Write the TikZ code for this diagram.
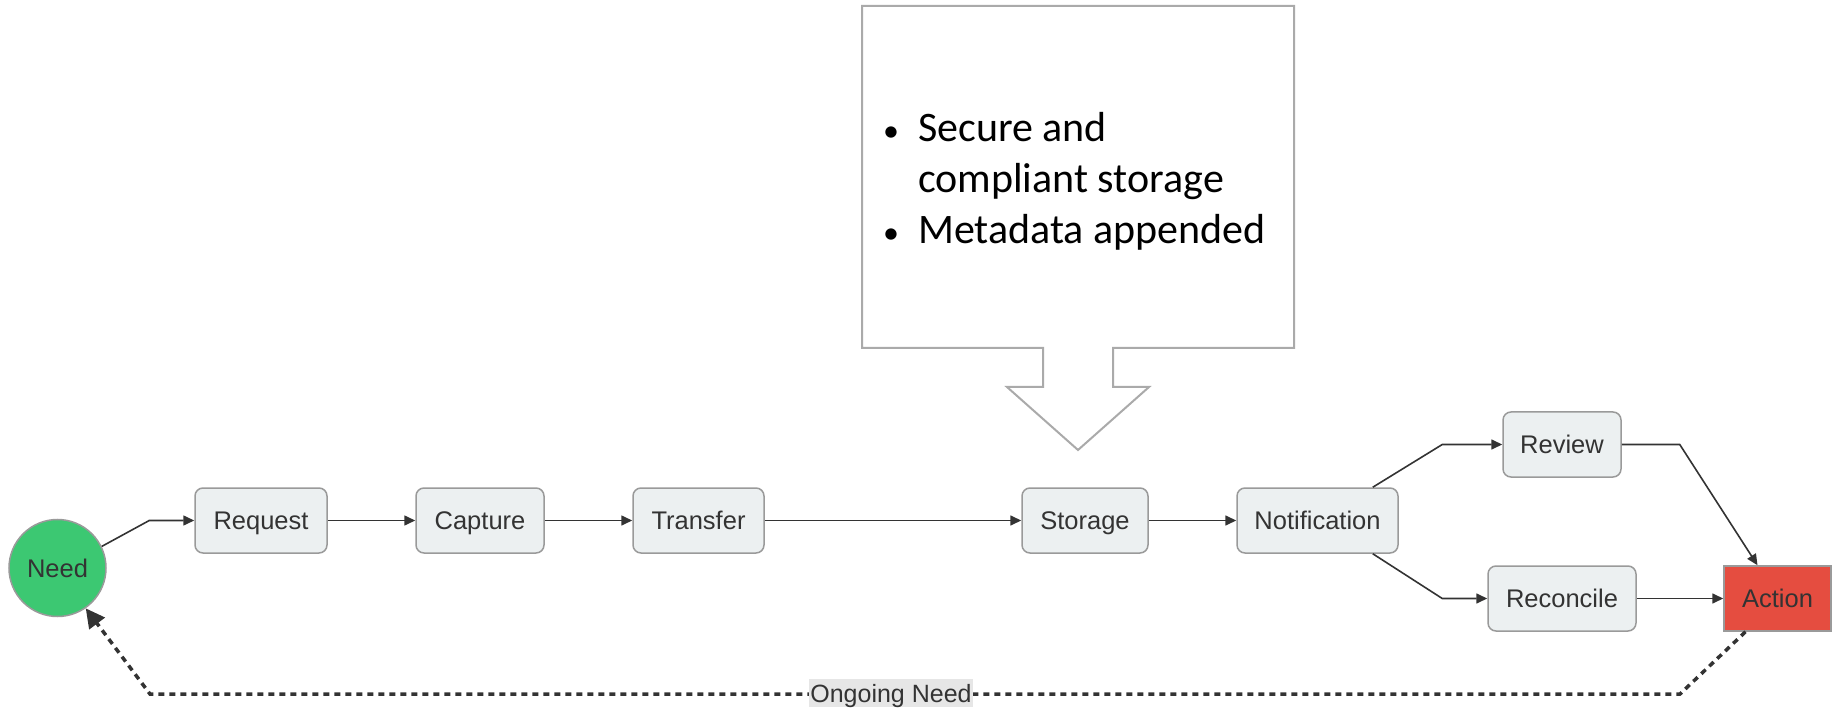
\documentclass[tikz,border=0pt]{standalone}
\usepackage{fontspec}
\setmainfont{Liberation Sans}
\newfontfamily\calloutfont{Carlito}
\usetikzlibrary{arrows.meta}
\definecolor{boxfill}{HTML}{ECF0F1}
\definecolor{boxline}{HTML}{9A9A9A}
\definecolor{ink}{HTML}{333333}
\definecolor{needgreen}{HTML}{3CC872}
\definecolor{actred}{HTML}{E54D40}
\definecolor{callline}{HTML}{AAAAAA}
\definecolor{lblfill}{HTML}{E6E6E6}
\tikzset{
  lbl/.style={text=ink, font=\fontsize{25.5}{30}\selectfont, text height=18pt, text depth=0pt},
  stepbox/.style={lbl, draw=boxline, line width=1.5pt, fill=boxfill, rounded corners=8pt,
    minimum height=65pt, inner sep=0pt},
  neednode/.style={lbl, circle, draw=boxline, line width=1.5pt, fill=needgreen, minimum size=97pt,
    inner sep=0pt},
  actnode/.style={lbl, draw=boxline, line width=1.5pt, fill=actred, minimum height=65pt,
    minimum width=107pt, inner sep=0pt},
  arr/.style={draw=ink, line width=1.6pt, -{Triangle[length=11pt,width=10pt]}},
  dotarr/.style={draw=ink, line width=3.5pt, dash pattern=on 6pt off 5pt,
    -{Triangle[length=19pt,width=19pt]}},
}
\begin{document}
\begin{tikzpicture}[x=1pt, y=-1pt]
\useasboundingbox (0,0) rectangle (1837,708);

% callout
\draw[callline, line width=2pt, fill=white]
  (862,6) -- (1294,6) -- (1294,348) -- (1113,348) -- (1113,387) -- (1149,387)
  -- (1078,450) -- (1007,387) -- (1043,387) -- (1043,348) -- (862,348) -- cycle;
\node[anchor=base west, inner sep=0pt, font=\calloutfont\fontsize{42}{51}\selectfont] (callouttext) at (883,142)
  {\begin{tabular}[t]{@{}l@{}l@{}}
   \makebox[35pt][l]{\fontsize{32}{32}\selectfont •} & Secure and\\
   & compliant storage\\
   \makebox[35pt][l]{\fontsize{32}{32}\selectfont •} & Metadata appended
   \end{tabular}};

% nodes
\node[neednode] (need) at (57.5,568) {Need};
\node[stepbox, minimum width=132pt] (request) at (261,520.5) {Request};
\node[stepbox, minimum width=128pt] (capture) at (480,520.5) {Capture};
\node[stepbox, minimum width=131pt] (transfer) at (698.5,520.5) {Transfer};
\node[stepbox, minimum width=126pt] (storage) at (1085,520.5) {Storage};
\node[stepbox, minimum width=161pt] (notification) at (1317.5,520.5) {Notification};
\node[stepbox, minimum width=118pt] (review) at (1562,444.5) {Review};
\node[stepbox, minimum width=148pt] (reconcile) at (1562,598.5) {Reconcile};
\node[actnode] (action) at (1777.5,598.5) {Action};

% connectors
\draw[arr] (need.26) -- ([xshift=-45pt]request.west) -- (request.west);
\draw[arr] (request) -- (capture);
\draw[arr] (capture) -- (transfer);
\draw[arr] (transfer) -- (storage);
\draw[arr] (storage) -- (notification);
\draw[arr] ([xshift=-26pt]notification.north east) -- ([xshift=-60pt]review.west) -- (review.west);
\draw[arr] ([xshift=-26pt]notification.south east) -- ([xshift=-45pt]reconcile.west) -- (reconcile.west);
\draw[arr] (review.east) -- ([xshift=58pt]review.east) -- ([xshift=-20pt]action.north);
\draw[arr] (reconcile) -- (action);

\coordinate (br) at (1680,694);
\coordinate (bl) at (150,694);
\draw[dotarr] ([xshift=-32pt]action.south) -- (br) -- (bl) -- (need.-55);
\node[fill=lblfill, inner xsep=1.5pt, inner ysep=5pt, text=ink, font=\fontsize{25}{30}\selectfont,
  text height=18pt, text depth=0pt] (ongoing) at (891,693) {Ongoing Need};
\end{tikzpicture}
\end{document}
